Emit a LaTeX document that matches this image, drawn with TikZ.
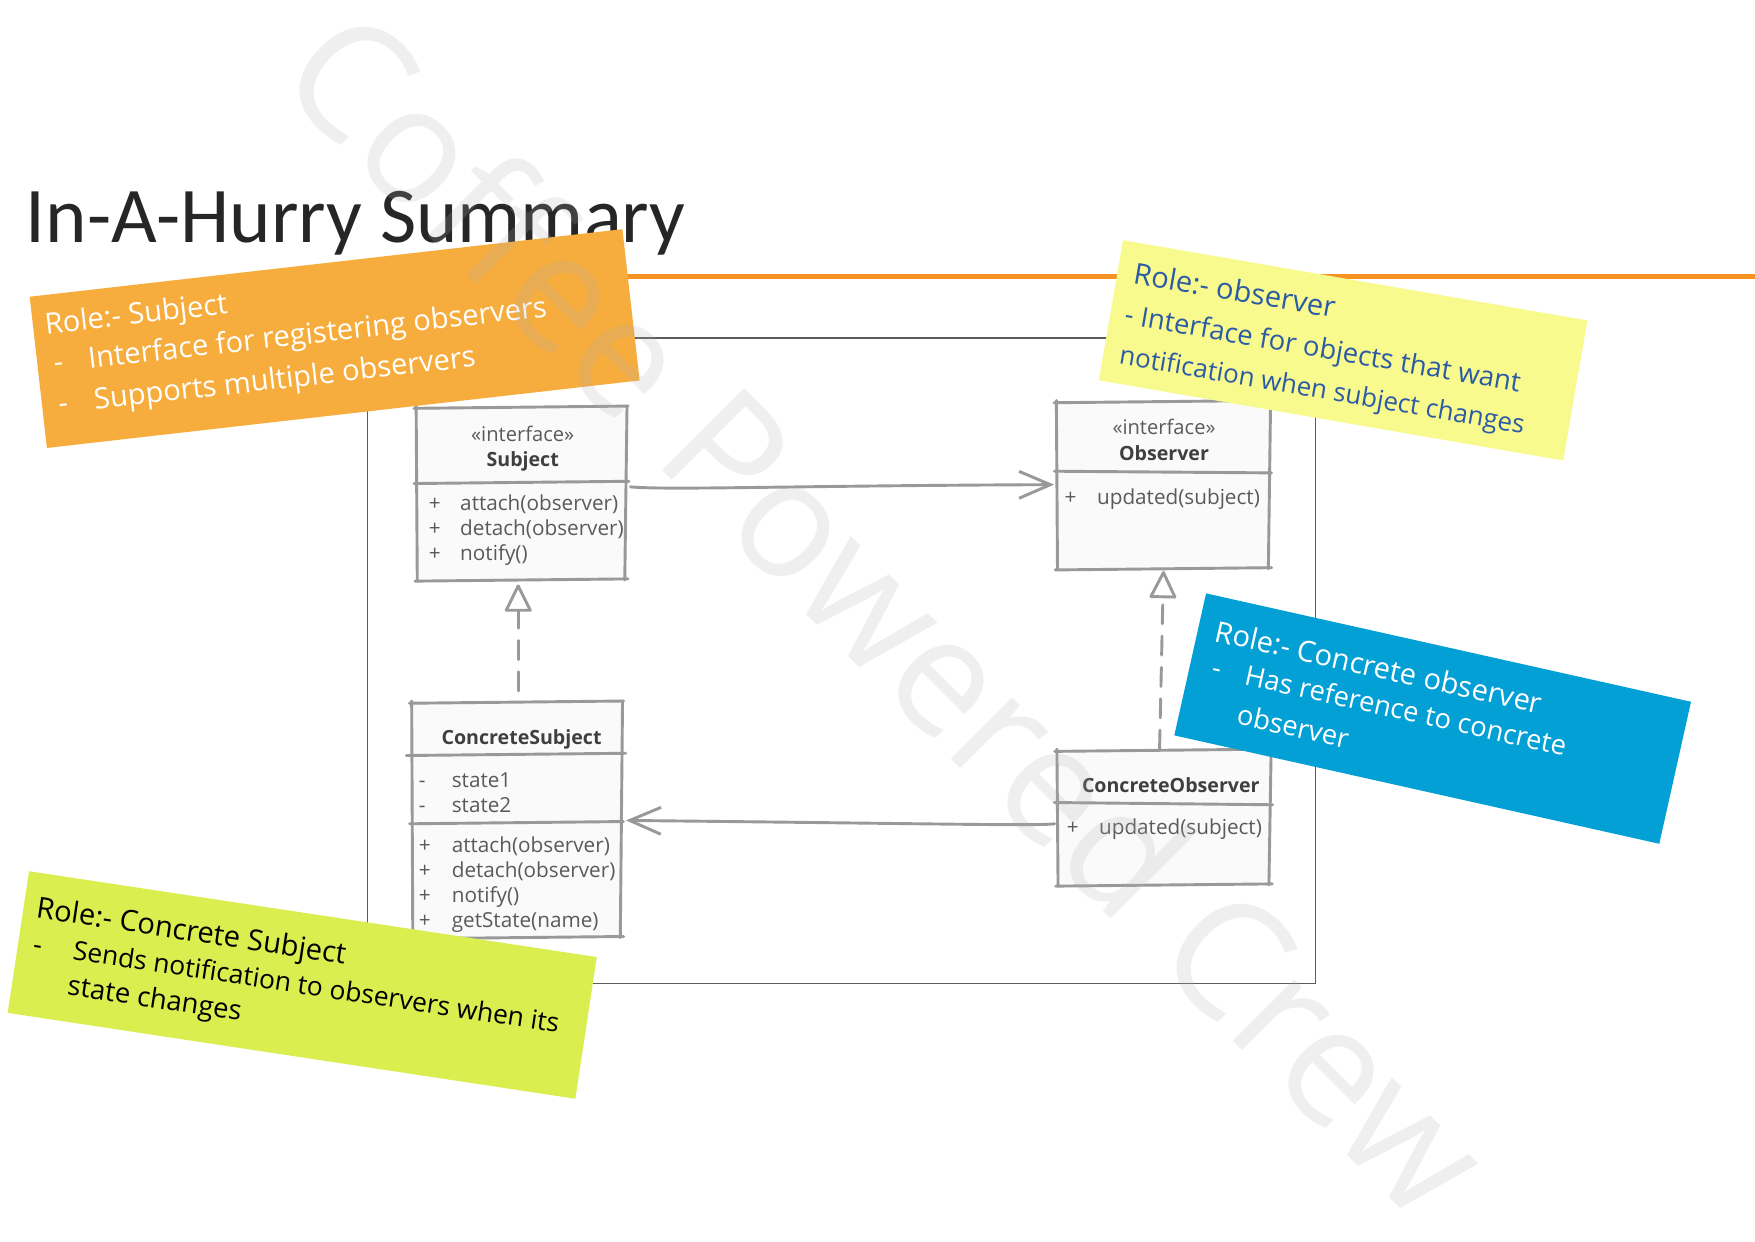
\documentclass[tikz,border=0pt]{standalone}
\usepackage{fontspec}
\setmainfont{Open Sans}
\newfontfamily\titlefont{Carlito}
\usetikzlibrary{calc,arrows.meta}
\definecolor{boxline}{HTML}{999999}
\definecolor{boxfill}{HTML}{FAFAFA}
\definecolor{boxtext}{HTML}{5A5A5A}
\definecolor{boxhead}{HTML}{3F3F3F}
\definecolor{framecol}{HTML}{5C5C5C}
\definecolor{rulecol}{HTML}{F59220}
\definecolor{titlecol}{HTML}{262626}
\definecolor{onote}{HTML}{F7AD3D}
\definecolor{ynote}{HTML}{F9FA8E}
\definecolor{ytext}{HTML}{2C5BA6}
\definecolor{bnote}{HTML}{03A0D6}
\definecolor{gnote}{HTML}{DAEE4F}
\definecolor{wmark}{HTML}{B0B0B0}
\newcommand\sketchbox[1]{%
  \draw[uml] ($(#1.north west)+(-2,1)$) -- ($(#1.north east)+(1,-1)$);
  \draw[uml] ($(#1.north east)+(0,-1)$) -- ($(#1.south east)+(-2,0)$);
  \draw[uml] ($(#1.south east)+(1,-1)$) -- ($(#1.south west)+(-1,1)$);
  \draw[uml] ($(#1.south west)+(1,0)$) -- ($(#1.north west)+(0,-1)$);
}
\begin{document}
\begin{tikzpicture}[x=1pt,y=-1pt,
  uml/.style={draw=boxline, line width=2.6pt, line cap=round, line join=round},
  conn/.style={draw=boxline, line width=2.6pt, line cap=round, line join=round},
  cls/.style={draw=none, fill=boxfill, inner sep=0pt, rectangle},
  mem/.style={anchor=base west, inner sep=0pt, text=boxtext, font=\fontsize{18.5}{22}\selectfont},
  stereo/.style={anchor=base, inner sep=0pt, text=boxtext, font=\fontsize{18}{21}\selectfont},
  cname/.style={anchor=base, inner sep=0pt, text=boxhead, font=\bfseries\fontsize{17.5}{21}\selectfont},
  notebox/.style={draw=none, inner sep=0pt, rectangle},
  ntxt/.style={anchor=base west, inner sep=0pt, font=\fontsize{24.5}{28}\selectfont},
  nrole/.style={anchor=base west, inner sep=0pt, font=\fontsize{26}{30}\selectfont},
  open barb/.style={-{Straight Barb[length=28pt,width=24pt]}},
  realize/.style={dash pattern=on 17pt off 11pt, -{Triangle[open,length=26pt,width=25pt,round]}}
]
\useasboundingbox (0,0) rectangle (1568,1109);
\fill[white] (0,0) rectangle (1568,1109);

% title and rule
\node[anchor=base west, inner sep=0pt, text=titlecol, font=\titlefont\fontsize{70.5}{80}\selectfont] (title) at (23,216.8) {In-A-Hurry Summary};
\draw[rulecol, line width=5pt] (400,247) -- (1568,247);

% frame
\draw[framecol, line width=1.1pt] (328,302) rectangle (1175,879);

% class boxes
\node[cls, minimum width=188pt, minimum height=154pt] (subj) at (466,441) {};
\node[cls, minimum width=191pt, minimum height=149pt] (obs) at (1039.5,433.5) {};
\node[cls, minimum width=188pt, minimum height=210pt] (csubj) at (462,732.5) {};
\node[cls, minimum width=191pt, minimum height=120pt] (cobs) at (1040,730.5) {};
\sketchbox{subj}
\sketchbox{obs}
\sketchbox{csubj}
\sketchbox{cobs}
\draw[uml] (370,432) -- (562,430);
\draw[uml] (942,421) -- (1136,422.5);
\draw[uml] (363,675) -- (559,673);
\draw[uml] (366,736) -- (557,734);
\draw[uml] (942,717) -- (1137,719);

% Subject
\node[stereo] (subjst) at (467,394.5) {«interface»};
\node[cname] (subjname) at (467,417) {Subject};
\node[mem] (sp1) at (383,456) {+};
\node[mem] (sm1) at (411,456) {attach(observer)};
\node[mem] (sp2) at (383,478.4) {+};
\node[mem] (sm2) at (411,478.4) {detach(observer)};
\node[mem] (sp3) at (383,500.8) {+};
\node[mem] (sm3) at (411,500.8) {notify()};

% Observer
\node[stereo] (obsst) at (1040,388.6) {«interface»};
\node[cname] (obsname) at (1040,411) {Observer};
\node[mem] (op1) at (951,451) {+};
\node[mem] (om1) at (980,451) {updated(subject)};

% ConcreteSubject
\node[cname] (csname) at (466,665) {ConcreteSubject};
\node[mem] (ca1d) at (374,703.4) {-};
\node[mem] (ca1) at (403.5,703.4) {state1};
\node[mem] (ca2d) at (374,725.8) {-};
\node[mem] (ca2) at (403.5,725.8) {state2};
\node[mem] (cp1) at (374,761.5) {+};
\node[mem] (cm1) at (403.5,761.5) {attach(observer)};
\node[mem] (cp2) at (374,783.9) {+};
\node[mem] (cm2) at (403.5,783.9) {detach(observer)};
\node[mem] (cp3) at (374,806.3) {+};
\node[mem] (cm3) at (403.5,806.3) {notify()};
\node[mem] (cp4) at (374,828.7) {+};
\node[mem] (cm4) at (403.5,828.7) {getState(name)};

% ConcreteObserver
\node[cname] (coname) at (1046,708) {ConcreteObserver};
\node[mem] (cop1) at (953,746) {+};
\node[mem] (com1) at (981.8,746) {updated(subject)};

% connectors
\draw[conn, open barb] ($(subj.east)+(3,-6)$) .. controls (600,438) and (700,434) .. ($(obs.west)+(-2,-0.5)$);
\draw[conn, open barb] ($(cobs.west)+(-2,5.5)$) .. controls (925,738) and (850,736) .. ($(csubj.east)+(3,0.5)$);
\draw[conn, realize] ($(csubj.north)+(1,-10)$) -- ($(subj.south)+(-3,4)$);
\draw[conn, realize] ($(cobs.north)+(-4,-1)$) -- ($(obs.south)+(0,2)$);

% orange note
\begin{scope}[shift={(299,302.5)}, rotate=6.5, transform shape]
  \node[notebox, fill=onote, minimum width=533pt, minimum height=136pt] (onote) at (0,0) {};
  \node[nrole, text=white] (o1) at (-256,-33) {Role:- Subject};
  \node[nrole, text=white] (o2d) at (-252,2) {-};
  \node[nrole, text=white] (o2) at (-221,2) {Interface for registering observers};
  \node[nrole, text=white] (o3d) at (-252,39) {-};
  \node[nrole, text=white] (o3) at (-220,39) {Supports multiple observers};
\end{scope}

% yellow note
\begin{scope}[shift={(1200,313)}, rotate=-9.8, transform shape]
  \node[notebox, fill=ynote, minimum width=421pt, minimum height=127pt] (ynote) at (0,0) {};
  \node[nrole, text=ytext] (y1) at (-196,-27) {Role:- observer};
  \node[ntxt, text=ytext] (y2) at (-197.5,10) {- Interface for objects that want};
  \node[ntxt, text=ytext, font=\fontsize{23.2}{28}\selectfont] (y3) at (-196,46) {notification when subject changes};
\end{scope}

% blue note
\begin{scope}[shift={(1280,642)}, rotate=-12.6, transform shape]
  \node[notebox, fill=bnote, minimum width=444pt, minimum height=130pt] (bnote) at (0,0) {};
  \node[nrole, text=white] (b1) at (-206,-25) {Role:- Concrete observer};
  \node[ntxt, text=white] (b2d) at (-202,7) {-};
  \node[ntxt, text=white] (b2) at (-172,7) {Has reference to concrete};
  \node[ntxt, text=white] (b3) at (-171,43) {observer};
\end{scope}

% green note
\begin{scope}[shift={(270,880)}, rotate=-8.6, transform shape]
  \node[notebox, fill=gnote, minimum width=513pt, minimum height=128pt] (gnote) at (0,0) {};
  \node[nrole, text=black] (g1) at (-245,-24) {Role:- Concrete Subject};
  \node[ntxt, text=black] (g2d) at (-243,8) {-};
  \node[ntxt, text=black, font=\fontsize{23.6}{28}\selectfont] (g2) at (-207,8) {Sends notification to observers when its};
  \node[ntxt, text=black] (g3) at (-207,40) {state changes};
\end{scope}

% watermark
\node[rotate=-45, inner sep=0pt, text=wmark, opacity=0.2, font=\fontsize{145}{150}\selectfont] (wm) at (795,546) {Coffee Powered Crew};
\end{tikzpicture}
\end{document}
